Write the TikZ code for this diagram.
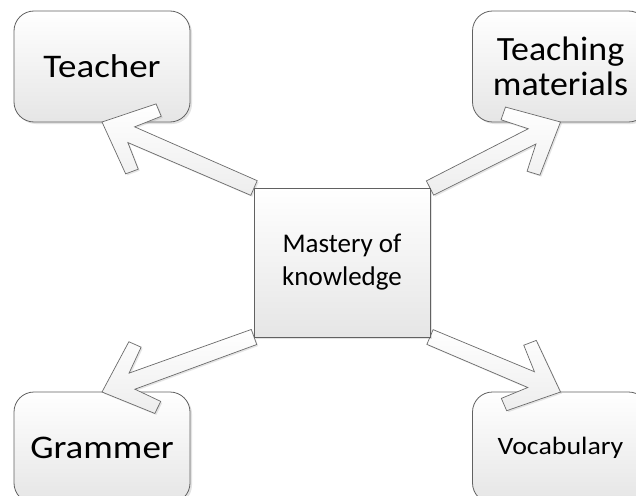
\documentclass[tikz,border=0pt]{standalone}
\usepackage{fontspec}
\setmainfont{Carlito}
\usetikzlibrary{calc,shadows}
\tikzset{
  boxbase/.style={draw=black!62, line width=0.8pt, top color=white, bottom color=black!10,
    drop shadow={opacity=0.22, shadow xshift=2pt, shadow yshift=-2pt},
    minimum width=176pt, minimum height=111pt, inner sep=0pt, outer sep=0pt,
    align=center, text=black},
  roundbox/.style={boxbase, rounded corners=20pt},
  squarebox/.style={boxbase, minimum width=176pt, minimum height=149pt},
  placeholder/.style={minimum width=176pt, minimum height=149pt, inner sep=0pt, outer sep=0pt},
  arrowshape/.style={draw=black!58, line width=0.7pt, top color=white, bottom color=black!7,
    drop shadow={opacity=0.2, shadow xshift=1.5pt, shadow yshift=-1.5pt}},
}
\newcommand\blockarrow[2]{%
  \path[arrowshape] (#2)
    -- ($(#2)!57pt!42:(#1)$)
    -- ($(#2)!59.5pt!29:(#1)$)
    -- ($(#2)!33pt!15:(#1)$)
    -- ($(#1)!8pt!-90:(#2)$)
    -- ($(#1)!8pt!90:(#2)$)
    -- ($(#2)!33pt!-15:(#1)$)
    -- ($(#2)!59.5pt!-29:(#1)$)
    -- ($(#2)!57pt!-42:(#1)$)
    -- cycle;}
\begin{document}
\begin{tikzpicture}[x=1pt,y=-1pt]
  \useasboundingbox[fill=white] (0,0) rectangle (636,495);
  \node[roundbox, font=\fontsize{33}{35}\selectfont\addfontfeatures{FakeStretch=1.12}] (teacher) at (102,66.5) {Teacher};
  \node[roundbox, font=\fontsize{34}{35}\selectfont\addfontfeatures{FakeStretch=1.055}] (materials) at (560.5,66.5) {Teaching\\materials};
  \node[roundbox, font=\fontsize{33}{35}\selectfont\addfontfeatures{FakeStretch=1.12}] (grammer) at (102,447.5) {Grammer};
  \node[roundbox, font=\fontsize{25}{30}\selectfont\addfontfeatures{FakeStretch=1.115}] (vocab) at (560.5,447.5) {Vocabulary};
  \node[placeholder] (center) at (342,262.5) {};
  \blockarrow{center.north west}{teacher.south}
  \blockarrow{center.north east}{materials.south}
  \blockarrow{center.south west}{grammer.north}
  \blockarrow{center.south east}{vocab.north}
  \node[squarebox, font=\fontsize{27}{33}\selectfont] (mastery) at (center)
    {\raisebox{-5pt}{\begin{tabular}{@{}c@{}}Mastery of\\knowledge\end{tabular}}};
\end{tikzpicture}
\end{document}
